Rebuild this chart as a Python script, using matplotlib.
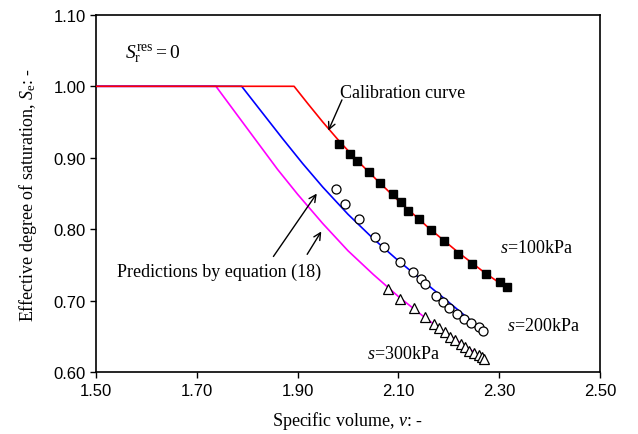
import matplotlib
matplotlib.use("Agg")
import matplotlib.pyplot as plt

plt.rcParams["font.family"] = "Liberation Serif"
plt.rcParams["mathtext.fontset"] = "custom"
plt.rcParams["mathtext.rm"] = "Liberation Serif"
plt.rcParams["mathtext.it"] = "Liberation Serif:italic"

# measured points
v_100 = [1.983, 2.003, 2.018, 2.041, 2.064, 2.089, 2.106, 2.120, 2.141, 2.165,
         2.190, 2.219, 2.247, 2.273, 2.301, 2.315]
se_100 = [0.920, 0.905, 0.896, 0.880, 0.865, 0.849, 0.838, 0.826, 0.814, 0.799,
          0.783, 0.766, 0.751, 0.738, 0.726, 0.719]

v_200 = [1.976, 1.995, 2.022, 2.054, 2.071, 2.104, 2.128, 2.145, 2.153, 2.175,
         2.188, 2.200, 2.216, 2.230, 2.245, 2.259, 2.267]
se_200 = [0.856, 0.836, 0.815, 0.789, 0.775, 0.754, 0.740, 0.730, 0.723, 0.707,
          0.698, 0.690, 0.682, 0.675, 0.669, 0.663, 0.658]

v_300 = [2.080, 2.103, 2.130, 2.153, 2.171, 2.181, 2.192, 2.202, 2.212, 2.224,
         2.232, 2.241, 2.250, 2.259, 2.265, 2.270]
se_300 = [0.717, 0.703, 0.690, 0.677, 0.668, 0.662, 0.656, 0.650, 0.645, 0.640,
          0.635, 0.630, 0.627, 0.624, 0.621, 0.618]

# calibration curve (s=100kPa) and predictions (s=200, 300kPa)
v_cal = [1.50, 1.893, 1.92, 1.95, 1.983, 2.02, 2.06, 2.10, 2.16, 2.22, 2.27, 2.315]
se_cal = [1.00, 1.000, 0.976, 0.950, 0.923, 0.895, 0.867, 0.840, 0.802, 0.767, 0.740, 0.718]

v_pred200 = [1.50, 1.789, 1.83, 1.87, 1.91, 1.95, 2.00, 2.05, 2.10, 2.15, 2.20, 2.27]
se_pred200 = [1.00, 1.000, 0.963, 0.927, 0.892, 0.859, 0.821, 0.787, 0.756, 0.727, 0.698, 0.657]

v_pred300 = [1.50, 1.738, 1.78, 1.82, 1.86, 1.90, 1.95, 2.00, 2.05, 2.10, 2.15, 2.20, 2.27]
se_pred300 = [1.00, 1.000, 0.960, 0.922, 0.884, 0.849, 0.808, 0.770, 0.737, 0.706, 0.678, 0.652, 0.619]

fig = plt.figure(figsize=(6.38, 4.35), dpi=100)
ax = fig.add_axes([0.1505, 0.1418, 0.7899, 0.8219])

ax.plot(v_pred300, se_pred300, color="#FF00FF", lw=1.2, zorder=2)
ax.plot(v_pred200, se_pred200, color="#0000FF", lw=1.2, zorder=2)
ax.plot(v_cal, se_cal, color="#FF0000", lw=1.2, zorder=3)

ax.plot(v_100, se_100, "s", color="black", ms=6, zorder=4)
ax.plot(v_200, se_200, "o", mfc="white", mec="black", mew=0.9, ms=6.5, zorder=4)
ax.plot(v_300, se_300, "^", mfc="white", mec="black", mew=0.9, ms=6.5, zorder=4)

ax.set_xlim(1.5, 2.5)
ax.set_ylim(0.6, 1.1)
ax.set_xticks([1.5, 1.7, 1.9, 2.1, 2.3, 2.5])
ax.set_yticks([0.6, 0.7, 0.8, 0.9, 1.0, 1.1])
ax.set_xticklabels([f"{t:.2f}" for t in ax.get_xticks()], family="Liberation Sans")
ax.set_yticklabels([f"{t:.2f}" for t in ax.get_yticks()], family="Liberation Sans")
ax.tick_params(direction="out", length=4, width=1, labelsize=12)
for sp in ax.spines.values():
    sp.set_linewidth(1.2)

ax.set_xlabel("Specific volume, $v$: -", fontsize=13, labelpad=8)
ax.set_ylabel("Effective degree of saturation, $S_{\\mathrm{e}}$: -", fontsize=13, labelpad=10)

ax.text(1.558, 1.045, "$S_{\\mathrm{r}}^{\\mathrm{res}} = 0$", fontsize=14, va="center")
ax.text(1.985, 0.992, "Calibration curve", fontsize=13, va="center")
ax.text(1.946, 0.741, "Predictions by equation (18)", fontsize=13, va="center", ha="right")
ax.text(2.302, 0.774, "$s$=100kPa", fontsize=13, va="center")
ax.text(2.316, 0.665, "$s$=200kPa", fontsize=13, va="center")
ax.text(2.037, 0.626, "$s$=300kPa", fontsize=13, va="center")

arrow = dict(arrowstyle="->,head_length=0.5,head_width=0.25", color="black",
             lw=1.0, shrinkA=0, shrinkB=0)
ax.annotate("", xy=(1.961, 0.938), xytext=(1.988, 0.981), arrowprops=arrow)
ax.annotate("", xy=(1.938, 0.850), xytext=(1.852, 0.762), arrowprops=arrow)
ax.annotate("", xy=(1.947, 0.797), xytext=(1.919, 0.765), arrowprops=arrow)

fig.savefig("out.png", dpi=100)
